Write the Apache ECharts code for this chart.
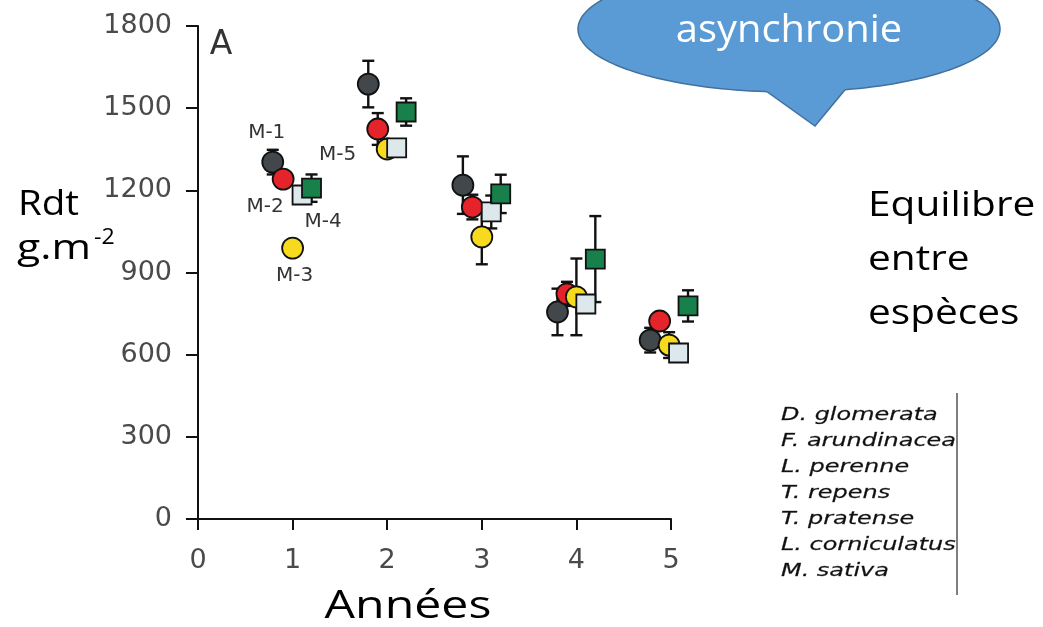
<!DOCTYPE html>
<html><head><meta charset="utf-8">
<script src="https://cdn.jsdelivr.net/npm/echarts@6/dist/echarts.min.js"></script>
<style>html,body{margin:0;padding:0;background:#fff}#c{width:1043px;height:627px}</style>
</head><body><div id="c"></div>
<script>
// ---- data ----
const mixtureLabels = ['M-1', 'M-2', 'M-3', 'M-4', 'M-5'];
const xTickValues = [0, 1, 2, 3, 4, 5];
const yTickValues = [0, 300, 600, 900, 1200, 1500, 1800];

const darkX   = [0.79, 1.8, 2.8, 3.8, 4.78];
const darkY   = [1303, 1588, 1219, 756, 653];
const darkErr = [45, 85, 105, 85, 45];

const redX   = [0.9, 1.9, 2.9, 3.9, 4.88];
const redY   = [1241, 1424, 1139, 822, 723];
const redErr = [25, 58, 45, 44, 20];

const yellowX   = [1.0, 2.0, 3.0, 4.0, 4.98];
const yellowY   = [989, 1351, 1030, 811, 635];
const yellowErr = [25, 30, 100, 140, 47];

const lightX   = [1.1, 2.1, 3.1, 4.1, 5.08];
const lightY   = [1183, 1355, 1121, 785, 606];
const lightErr = [30, 30, 60, 30, 25];

const greenX   = [1.2, 2.2, 3.2, 4.2, 5.18];
const greenY   = [1208, 1486, 1187, 949, 778];
const greenErr = [50, 50, 70, 157, 57];

const speciesNames = ['D. glomerata', 'F. arundinacea', 'L. perenne', 'T. repens',
  'T. pratense', 'L. corniculatus', 'M. sativa'];
const sideLines = ['Equilibre', 'entre', 'espèces'];

// ---- chart ----
const chart = echarts.init(document.getElementById('c'));
const FIG_FONT = '"DejaVu Sans", sans-serif';
const SLIDE_FONT = '"Open Sans", sans-serif';

function errSeries(xs, ys, es) {
  return {
    type: 'custom', silent: true, z: 2, clip: false,
    data: xs.map((x, i) => [x, ys[i], es[i]]),
    renderItem: function (params, api) {
      const x = api.value(0), y = api.value(1), e = api.value(2);
      const t = api.coord([x, y + e]);
      const b = api.coord([x, y - e]);
      const w = 6;
      const st = { stroke: '#111', lineWidth: 2.4 };
      return {
        type: 'group', children: [
          { type: 'line', shape: { x1: t[0], y1: t[1], x2: b[0], y2: b[1] }, style: st },
          { type: 'line', shape: { x1: t[0] - w, y1: t[1], x2: t[0] + w, y2: t[1] }, style: st },
          { type: 'line', shape: { x1: b[0] - w, y1: b[1], x2: b[0] + w, y2: b[1] }, style: st }
        ]
      };
    }
  };
}

function labelFor(text, offset) {
  return { show: true, position: 'inside', offset: offset, formatter: text,
    color: '#333', fontSize: 20, fontFamily: FIG_FONT };
}

function markSeries(xs, ys, symbol, size, color, labels) {
  return {
    type: 'scatter', symbol: symbol, symbolSize: size, z: 3, clip: false,
    itemStyle: { color: color, borderColor: '#111', borderWidth: 1.8, opacity: 1 },
    emphasis: { disabled: true },
    data: xs.map((x, i) => {
      const item = { value: [x, ys[i]] };
      if (labels && labels[i]) item.label = labels[i];
      return item;
    })
  };
}

function slideText(text, x, y, size, align, fill, sx) {
  return {
    type: 'text', x: x, y: y, scaleX: sx,
    style: { text: text, x: 0, y: 0, font: size + 'px ' + SLIDE_FONT, fill: fill || '#000',
      textAlign: align, textVerticalAlign: 'middle' }
  };
}

// speech bubble outline (ellipse + tail)
const bubblePts = [[815, 126]];
const cx = 789, cy = 29, rx = 211, ry = 63;
for (let a = 74.6; a >= -264; a -= 2) {
  const r = a * Math.PI / 180;
  bubblePts.push([cx + rx * Math.cos(r), cy + ry * Math.sin(r)]);
}
bubblePts.push([767, 91.7]);

const graphics = [
  { type: 'polygon', shape: { points: bubblePts },
    style: { fill: '#5b9bd5', stroke: '#41719c', lineWidth: 1.5 } },
  slideText('asynchronie', 789, 31, 38, 'center', '#fff', 1.05),
  { type: 'text', x: 221, y: 45, style: { text: 'A', x: 0, y: 0, font: '33px ' + FIG_FONT,
    fill: '#333', textAlign: 'center', textVerticalAlign: 'middle' } },
  slideText('Rdt', 18, 205, 35, 'left', '#000', 1.1),
  slideText('g.m', 17, 249, 35, 'left', '#000', 1.22),
  slideText('-2', 94, 238, 21, 'left', '#000', 1.1),
  slideText('Années', 408, 607, 38, 'center', '#000', 1.27),
  { type: 'line', shape: { x1: 957, y1: 393, x2: 957, y2: 595 }, style: { stroke: '#555', lineWidth: 1.5 } }
];
sideLines.forEach((t, i) => graphics.push(slideText(t, 868, 206 + 54 * i, 35, 'left', '#000', 1.16)));
speciesNames.forEach((t, i) => graphics.push({
  type: 'text', x: 781, y: 415 + 26 * i, scaleX: 1.33,
  style: { text: t, x: 0, y: 0, font: 'italic 18px ' + FIG_FONT, fill: '#111',
    stroke: '#555', lineWidth: 0.3, textAlign: 'left', textVerticalAlign: 'middle' }
}));

const option = {
  animation: false,
  backgroundColor: '#fff',
  grid: { left: 198, right: 372, top: 26, bottom: 108, containLabel: false },
  xAxis: {
    type: 'value', min: xTickValues[0], max: xTickValues[xTickValues.length - 1], interval: 1,
    splitLine: { show: false },
    axisLine: { onZero: false, lineStyle: { color: '#111', width: 2 } },
    axisTick: { length: 11, lineStyle: { color: '#111', width: 2 } },
    axisLabel: { margin: 28, fontSize: 27, color: '#4a4a4a', fontFamily: FIG_FONT,
      formatter: v => String(v) }
  },
  yAxis: {
    type: 'value', min: yTickValues[0], max: yTickValues[yTickValues.length - 1], interval: 300,
    splitLine: { show: false },
    axisLine: { show: true, onZero: false, lineStyle: { color: '#111', width: 2 } },
    axisTick: { show: true, length: 12, lineStyle: { color: '#111', width: 2 } },
    axisLabel: { margin: 26, fontSize: 27, color: '#4a4a4a', fontFamily: FIG_FONT,
      formatter: v => String(v) }
  },
  series: [
    errSeries(darkX, darkY, darkErr),
    errSeries(redX, redY, redErr),
    errSeries(yellowX, yellowY, yellowErr),
    errSeries(lightX, lightY, lightErr),
    errSeries(greenX, greenY, greenErr),
    markSeries(darkX, darkY, 'circle', 21, '#41474b', [labelFor(mixtureLabels[0], [-6, -29])]),
    markSeries(redX, redY, 'circle', 21, '#e5232a', [labelFor(mixtureLabels[1], [-18, 28])]),
    markSeries(yellowX, yellowY, 'circle', 21, '#f7d91e', [labelFor(mixtureLabels[2], [2, 28])]),
    markSeries(lightX, lightY, 'rect', 19, '#dce8ec', [labelFor(mixtureLabels[3], [21, 27])]),
    markSeries(greenX, greenY, 'rect', 19, '#18804a', [labelFor(mixtureLabels[4], [26, -33])])
  ],
  graphic: graphics
};
chart.setOption(option);
</script>
</body></html>
